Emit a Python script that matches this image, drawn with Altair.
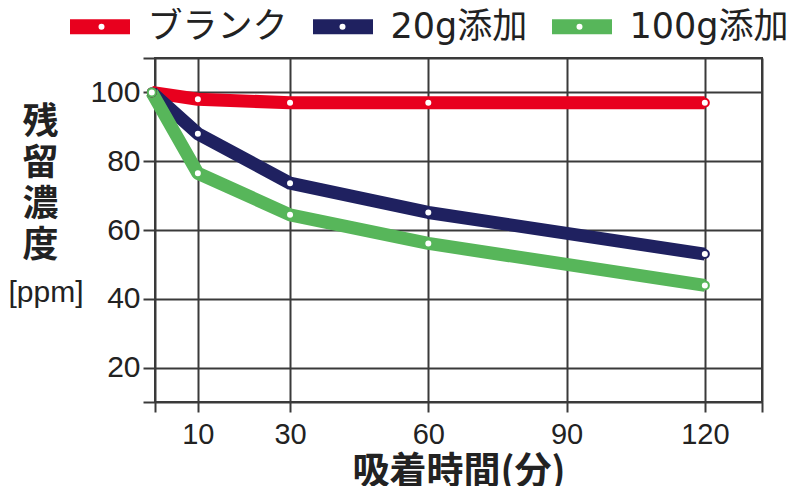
import altair as alt
import pandas as pd

# ---- data ----
times = [0, 10, 30, 60, 120]
series_names = ["ブランク", "20g添加", "100g添加"]
blank = [100, 98, 97, 97, 97]
add20 = [100, 88, 73.6, 65.1, 53.0]
add100 = [100, 76.5, 64.4, 56.1, 43.9]
colors = ["#e8001e", "#1f2160", "#57b65a"]
x_ticks = [10, 30, 60, 90, 120]
y_ticks = [20, 40, 60, 80, 100]

# marker names differ from line names only by a zero-width space so that
# Vega-Lite keeps the two legends apart (the marker legend draws the white dots)
marker_names = [n + "\u200b" for n in series_names]

rows = []
for name, mname, vals in zip(series_names, marker_names, [blank, add20, add100]):
    for t, v in zip(times, vals):
        rows.append({"time": t, "conc": v, "series": name, "marker": mname})
df = pd.DataFrame(rows)

XMIN, XMAX = 0.7, 132.4
YMIN, YMAX = 10, 110

LAT = "Liberation Sans"
CJK = "Noto Sans CJK JP"
LEGF = "DejaVu Sans, Noto Sans CJK JP"
GRID = "#3a3a3a"
TXT = "#222222"
LEG_FS = 35
COL_PAD = -6

x_enc = alt.X(
    "time:Q",
    scale=alt.Scale(domain=[XMIN, XMAX], nice=False, zero=False),
    axis=alt.Axis(
        values=[XMIN] + x_ticks + [XMAX],
        labelExpr="datum.value < 5 || datum.value > 125 ? '' : datum.label",
        grid=True, gridColor=GRID, gridWidth=2, gridOpacity=1,
        domain=False, ticks=True, tickSize=10, tickColor=GRID, tickWidth=2,
        labelFont=LAT, labelFontSize=29, labelColor=TXT, labelPadding=8,
        labelOverlap=False, labelFlush=False,
        title="吸着時間(分)", titleFont=CJK, titleFontSize=37,
        titleFontWeight="bold", titlePadding=5, titleColor=TXT,
    ),
)

y_enc = alt.Y(
    "conc:Q",
    scale=alt.Scale(domain=[YMIN, YMAX], nice=False, zero=False),
    axis=alt.Axis(
        values=[YMIN] + y_ticks + [YMAX],
        labelExpr="datum.value < 15 || datum.value > 105 ? '' : datum.label",
        grid=True, gridColor=GRID, gridWidth=2, gridOpacity=1,
        domain=False, ticks=True, tickSize=12, tickColor=GRID, tickWidth=2,
        labelFont=LAT, labelFontSize=30, labelColor=TXT, labelPadding=3,
        labelOverlap=False, labelFlush=False,
        title=["残", "留", "濃", "度"], titleAngle=0, titleAlign="center",
        titleBaseline="top", titleX=-115, titleY=47, titleFontSize=36,
        titleLineHeight=41, titleFont=CJK, titleFontWeight="bold", titleColor=TXT,
    ),
)

lines = alt.Chart(df).mark_line(strokeWidth=13, strokeJoin="round", strokeCap="butt").encode(
    x=x_enc,
    y=y_enc,
    color=alt.Color(
        "series:N",
        scale=alt.Scale(domain=series_names, range=colors),
        legend=alt.Legend(
            orient="none", legendX=-92.5, legendY=-69, direction="horizontal",
            title=None, symbolType="stroke", symbolSize=3600, symbolStrokeWidth=15,
            labelFont=LEGF, labelFontSize=LEG_FS, labelColor=TXT, labelOffset=10,
            columnPadding=COL_PAD, symbolOpacity=1,
        ),
    ),
)

points = alt.Chart(df).mark_point(
    shape="circle", filled=True, fill="white", size=64, strokeWidth=2, opacity=1
).encode(
    x=alt.X("time:Q"),
    y=alt.Y("conc:Q"),
    stroke=alt.Stroke(
        "marker:N",
        scale=alt.Scale(domain=marker_names, range=colors),
        legend=alt.Legend(
            orient="none", legendX=-71, legendY=-49, direction="horizontal",
            title=None, symbolType="circle", symbolSize=64, symbolStrokeWidth=2,
            symbolFillColor="white", labelFont=LEGF, labelFontSize=LEG_FS,
            labelOpacity=0, labelOffset=65, columnPadding=COL_PAD, symbolOpacity=1,
        ),
    ),
)

ppm = alt.Chart(pd.DataFrame({"t": ["[ppm]"]})).mark_text(
    font=LAT, fontSize=30, align="center", baseline="middle", color=TXT
).encode(x=alt.value(-109), y=alt.value(235), text="t:N")

chart = (
    alt.layer(lines, points, ppm)
    .properties(
        width=607, height=344,
        autosize=alt.AutoSizeParams(type="none"),
        padding={"left": 147, "top": 50, "right": 30, "bottom": 84},
        background="white",
    )
    .configure_view(stroke=GRID, strokeWidth=2)
)

chart.save("out.html", embed_options={"renderer": "svg", "actions": False})
